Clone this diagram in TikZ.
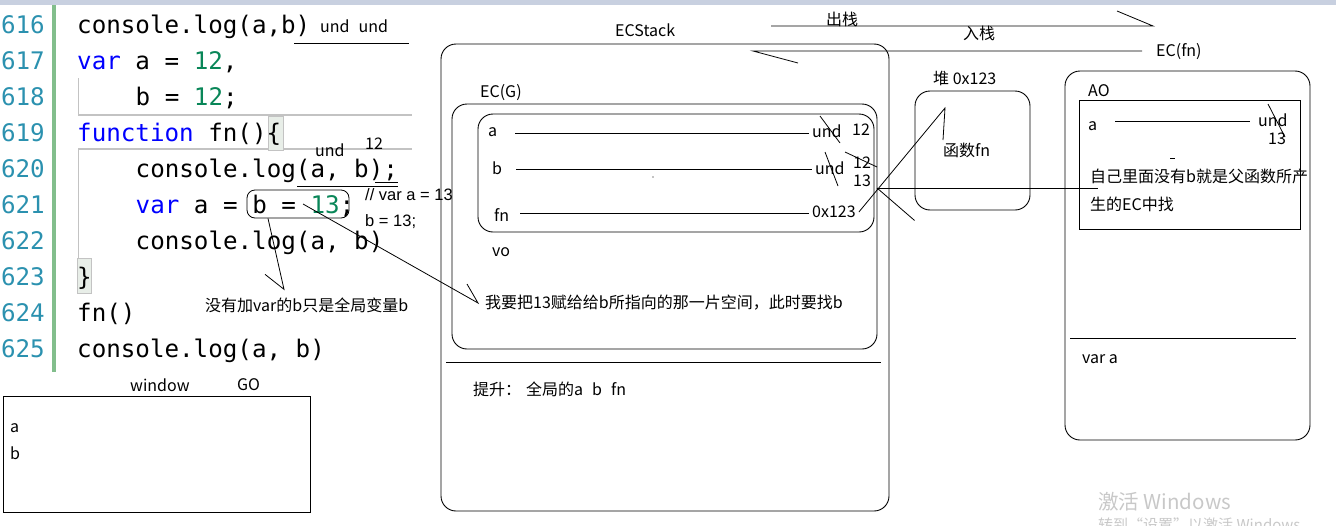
\documentclass[tikz,border=0pt]{standalone}
\usepackage{fontspec}
\setmainfont{Noto Sans CJK SC}
\newfontfamily\codefont{DejaVu Sans Mono}
\newfontfamily\notefont{Liberation Sans}
\usetikzlibrary{positioning}

\definecolor{lnum}{RGB}{43,145,175}
\definecolor{kw}{RGB}{0,0,255}
\definecolor{numc}{RGB}{9,134,88}
\definecolor{gutter}{RGB}{130,190,140}
\definecolor{band}{RGB}{200,208,224}
\definecolor{guide}{RGB}{195,195,195}
\definecolor{brmatch}{RGB}{232,238,232}
\definecolor{wmark}{RGB}{200,200,200}

\tikzset{
    lbl/.style={font=\fontsize{16}{18}\selectfont, inner sep=0pt, anchor=west},
    note/.style={lbl, font=\notefont\fontsize{16.5}{18}\selectfont},
    codeln/.style={font=\codefont\fontsize{24.2}{28}\selectfont, inner sep=0pt, anchor=base west},
    lineno/.style={codeln, text=lnum, anchor=base east},
    frame/.style={draw, rounded corners=15pt, line width=0.9pt},
    pen/.style={line width=0.8pt},
}

\begin{document}
\begin{tikzpicture}[x=1pt,y=-1pt]

    \useasboundingbox (0,0) rectangle (1336,525);

    \def \codex {77}
    \def \indx {135.5}

    % editor: top band, gutter, current line
    \fill[band] (0,0) rectangle (1336,5);
    \fill[gutter] (52,5) rectangle (56,372);
    \draw[guide, line width=1.2pt] (78,115) -- (412,115);
    \draw[guide, line width=1.2pt] (78,149) -- (412,149);
    \draw[guide, line width=0.8pt] (78,78) -- (78,115);
    \draw[guide, line width=0.8pt] (78,150) -- (78,258);
    \draw[fill=brmatch, draw=guide] (268,116) rectangle (283,150);
    \draw[fill=brmatch, draw=guide] (77,258) rectangle (91,293);

    % line numbers
    \foreach \n [count=\i from 0] in {616,...,625}
        \node[lineno] (ln\n) at (45,{33+36*\i}) {\n};

    % code
    \node[codeln] (c616) at (\codex,33) {console.log(a,b)};
    \node[codeln] (c617) at (\codex,69) {\textcolor{kw}{var} a = \textcolor{numc}{12},};
    \node[codeln] (c618) at (\indx,105) {b = \textcolor{numc}{12};};
    \node[codeln] (c619) at (\codex,141) {\textcolor{kw}{function} fn()\{};
    \node[codeln] (c620) at (\indx,177) {console.log(a, b);};
    \node[codeln] (c621) at (\indx,213) {\textcolor{kw}{var} a = b = \textcolor{numc}{13};};
    \node[codeln] (c622) at (\indx,249) {console.log(a, b)};
    \node[codeln] (c623) at (\codex,285) {\}};
    \node[codeln] (c624) at (\codex,321) {fn()};
    \node[codeln] (c625) at (\codex,357) {console.log(a, b)};

    % notes on the code
    \node[lbl] (uu) at (320,26) {und\hspace{9pt}und};
    \draw[pen] (294,43) -- (409,43);
    \node[lbl] (und620) at (315,150) {und};
    \node[lbl] (tw620) at (365,144) {12};
    \draw[pen] (297,186) -- (398,186);
    \draw[pen] (375,182) -- (398,182);
    \node[draw, pen, rounded corners=8pt, minimum width=102pt, minimum height=28pt] (bbox) at (298,204) {};
    \node[note] (cm1) at (365,195) {// var a = 13};
    \node[note] (cm2) at (365,222) {b = 13;};
    \node[lbl] (novar) at (205,305) {没有加var的b只是全局变量b};
    \node[lbl] (assign) at (485,303) {我要把13赋给给b所指向的那一片空间，此时要找b};
    \draw[pen] ([xshift=-30pt]bbox.south) -- ([xshift=79pt,yshift=8pt]novar.north west) -- ++(-19,-15);
    \draw[pen] ([xshift=5pt]bbox.center) -- ([xshift=-7pt]assign.west) -- ++(-11,-19);

    % ECStack
    \node[lbl] (ecs) at (615,30) {ECStack};
    \draw[frame] (441,44) rectangle (889,511);
    \draw[pen] (446,362) -- (881,362);
    \node[lbl] (hoist) at (473,389) {提升：\hspace{5pt}全局的a\hspace{9pt}b\hspace{9pt}fn};

    % EC(G)
    \node[lbl] (ecg) at (480,93) {EC(G)};
    \draw[frame] (452,104) rectangle (877,349);
    \draw[frame] (478,114) rectangle (874,232);
    \node[lbl] (va) at (488,132) {a};
    \node[lbl] (vaund) at (812,131) {und};
    \node[lbl] (va12) at (852,130) {12};
    \draw[pen] (515,133) -- ([xshift=-3pt]vaund.west |- 0,133);
    \node[lbl] (vb) at (492,168) {b};
    \node[lbl] (vbund) at (815,168) {und};
    \node[lbl] (vb12) at (853,163) {12};
    \node[lbl] (vb13) at (853,181) {13};
    \draw[pen] (516,169) -- ([xshift=-3pt]vbund.west |- 0,169);
    \node[lbl] (vfn) at (494,215) {fn};
    \node[lbl] (vfnhex) at (812,212) {0x123};
    \draw[pen] (520,213) -- ([xshift=-3pt]vfnhex.west |- 0,213);
    \draw[pen] (820,116) -- (840,143);
    \draw[pen] (825,152) -- (838,186);
    \draw[pen] (845,152) -- (877,167);
    \fill (653,177) circle (0.6pt);
    \node[lbl] (vo) at (492,252) {vo};

    % heap
    \node[lbl] (heaplbl) at (933,78) {堆 0x123};
    \node[frame, minimum width=115pt, minimum height=119pt] (heap) at (972.5,150.5) {};
    \node[lbl] (fnobj) at (943,150) {函数fn};
    \coordinate (hp) at (945,108);
    \draw[pen] ([xshift=3pt]vfnhex.east) -- (hp) -- (943,140);

    % EC(fn)
    \node[lbl] (ecfn) at (1156,52) {EC(fn)};
    \draw[frame] (1065,71) rectangle (1310,440);
    \node[lbl] (ao) at (1088,91) {AO};
    \draw[pen] (1079,100) rectangle (1300,229);
    \node[lbl] (fa) at (1088,126) {a};
    \node[lbl] (faund) at (1258,120) {und};
    \node[lbl] (fa13) at (1268,139) {13};
    \draw[pen] (1115,121) -- ([xshift=-8pt]faund.west |- 0,121);
    \draw[pen] (1268,104) -- (1285,137);
    \draw[pen] (1170,158) -- (1175,158);
    \node[lbl] (selfa) at (1090,176) {自己里面没有b就是父函数所产};
    \node[lbl] (selfb) at (1090,204) {生的EC中找};
    \draw[pen] (1070,338) -- (1296,338);
    \node[lbl] (vara) at (1082,359) {var a};

    % lookup from b up to the parent EC
    \coordinate (look) at (877,188);
    \draw[pen] (look) -- ([xshift=8pt]selfa.west |- look);
    \draw[pen] (look) -- ([yshift=-10pt]heap.south west);

    % push / pop
    \node[lbl] (pop) at (826,19) {出栈};
    \draw[pen] (771,26) -- (1153,26) -- (1117,11);
    \node[lbl] (push) at (963,33) {入栈};
    \draw[pen] (1142,51) -- (753,51) -- (798,63);

    % window GO
    \node[lbl] (win) at (130,385) {window};
    \node[lbl] (go) at (237,385) {GO};
    \draw[pen] (3,396) rectangle (310,512);
    \node[lbl] (wa) at (10,428) {a};
    \node[lbl] (wb) at (10,453) {b};

    % watermark
    \node[lbl, text=wmark, font=\fontsize{20.5}{22}\selectfont] (wm1) at (1098,502) {激活 Windows};
    \node[lbl, text=wmark, font=\fontsize{15}{17}\selectfont] (wm2) at (1098,525) {转到“设置”以激活 Windows。};

\end{tikzpicture}
\end{document}
